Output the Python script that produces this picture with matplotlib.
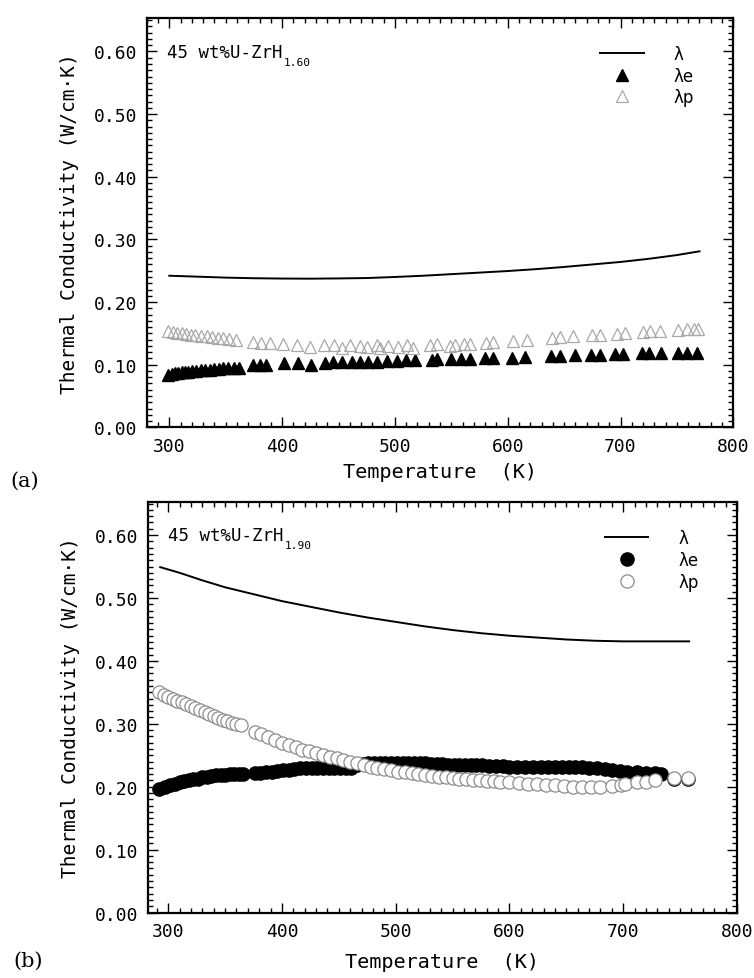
import numpy as np
import matplotlib.pyplot as plt
from matplotlib.ticker import MultipleLocator, FormatStrFormatter

# ---- panel (a): 45 wt%U-ZrH1.60 ----
t_line_a = [300, 325, 350, 375, 400, 425, 450, 475, 500, 525, 550, 575, 600, 625, 650,
            675, 700, 725, 750, 770]
lam_a = [0.242, 0.2405, 0.239, 0.238, 0.2375, 0.2373, 0.2377, 0.2383, 0.240, 0.242,
         0.2445, 0.247, 0.2495, 0.2525, 0.256, 0.260, 0.264, 0.269, 0.275, 0.281]

t_e_a = [299, 302, 305, 308, 311, 314, 317, 320, 324, 328, 332, 336, 340, 344, 348, 352,
         357, 362, 374, 380, 386, 402, 414, 426, 438, 445, 453, 462, 469, 476, 484, 493,
         502, 510, 518, 533, 537, 550, 559, 567, 580, 587, 604, 615, 638, 646, 660, 674,
         682, 695, 702, 719, 725, 736, 751, 759, 768]
lam_e_a = [0.084, 0.085, 0.086, 0.087, 0.088, 0.088, 0.089, 0.090, 0.090, 0.091, 0.092,
           0.092, 0.093, 0.093, 0.094, 0.094, 0.095, 0.095, 0.099, 0.099, 0.100, 0.102,
           0.103, 0.0995, 0.103, 0.104, 0.104, 0.105, 0.105, 0.105, 0.105, 0.106, 0.106,
           0.107, 0.107, 0.108, 0.109, 0.109, 0.109, 0.109, 0.110, 0.111, 0.111, 0.112,
           0.114, 0.114, 0.115, 0.116, 0.116, 0.117, 0.117, 0.118, 0.118, 0.118, 0.119,
           0.119, 0.119]

t_p_a = [299, 303, 307, 311, 315, 319, 323, 328, 333, 338, 343, 348, 353, 359, 374, 381,
         389, 401, 413, 425, 437, 446, 453, 460, 469, 475, 484, 487, 494, 503, 511, 516,
         531, 537, 549, 553, 561, 567, 581, 587, 605, 617, 639, 646, 658, 675, 682, 697,
         704, 720, 726, 735, 751, 759, 765, 769]
lam_p_a = [0.153, 0.152, 0.151, 0.150, 0.149, 0.148, 0.147, 0.146, 0.145, 0.144, 0.143,
           0.142, 0.141, 0.140, 0.136, 0.135, 0.134, 0.133, 0.131, 0.128, 0.132, 0.131,
           0.127, 0.131, 0.130, 0.128, 0.131, 0.127, 0.130, 0.129, 0.131, 0.127, 0.131,
           0.133, 0.130, 0.132, 0.133, 0.133, 0.135, 0.136, 0.138, 0.139, 0.142, 0.144,
           0.145, 0.147, 0.148, 0.149, 0.150, 0.152, 0.153, 0.153, 0.156, 0.157, 0.157,
           0.157]

# ---- panel (b): 45 wt%U-ZrH1.90 ----
t_line_b = [293, 310, 330, 350, 375, 400, 425, 450, 475, 500, 525, 550, 575, 600, 625,
            650, 675, 700, 730, 758]
lam_b = [0.549, 0.540, 0.528, 0.517, 0.506, 0.495, 0.486, 0.477, 0.469, 0.462, 0.455,
         0.449, 0.444, 0.440, 0.437, 0.434, 0.432, 0.431, 0.431, 0.431]

t_e_b = [292, 297, 302, 306, 310, 314, 318, 322, 326, 330, 334, 338, 342, 346, 350, 354,
         358, 362, 366, 376, 381, 386, 391, 396, 401, 406, 411, 416, 421, 426, 431, 436,
         441, 446, 451, 456, 461, 466, 471, 476, 481, 486, 491, 496, 501, 506, 511, 516,
         521, 526, 531, 536, 541, 546, 551, 556, 561, 566, 571, 576, 582, 588, 594, 600,
         607, 614, 621, 628, 634, 640, 646, 652, 658, 664, 670, 677, 684, 690, 697, 703,
         712, 720, 728, 733, 745, 757]
lam_e_b = [0.197, 0.200, 0.203, 0.205, 0.207, 0.209, 0.210, 0.212, 0.213, 0.215, 0.216,
           0.217, 0.218, 0.219, 0.219, 0.220, 0.220, 0.220, 0.220, 0.221, 0.222, 0.223,
           0.224, 0.225, 0.226, 0.227, 0.228, 0.229, 0.229, 0.230, 0.230, 0.230, 0.230,
           0.229, 0.229, 0.229, 0.230, 0.234, 0.236, 0.237, 0.238, 0.238, 0.238, 0.238,
           0.238, 0.238, 0.238, 0.237, 0.237, 0.237, 0.236, 0.236, 0.236, 0.235, 0.235,
           0.235, 0.234, 0.234, 0.234, 0.234, 0.233, 0.233, 0.233, 0.232, 0.232, 0.232,
           0.232, 0.232, 0.232, 0.232, 0.232, 0.232, 0.231, 0.231, 0.230, 0.229, 0.228,
           0.227, 0.225, 0.224, 0.223, 0.222, 0.221, 0.220, 0.213, 0.213]

t_p_b = [292, 296, 300, 304, 308, 312, 316, 320, 324, 328, 332, 336, 340, 344, 348, 352,
         356, 360, 364, 376, 382, 388, 394, 400, 406, 412, 418, 424, 430, 436, 442, 448,
         454, 460, 466, 472, 478, 484, 490, 496, 502, 508, 514, 520, 526, 532, 538, 544,
         550, 556, 562, 568, 574, 580, 586, 592, 600, 608, 616, 624, 632, 640, 648, 656,
         664, 672, 680, 690, 698, 702, 712, 720, 728, 745, 757]
lam_p_b = [0.350, 0.346, 0.343, 0.340, 0.337, 0.334, 0.331, 0.328, 0.325, 0.322, 0.319,
           0.316, 0.312, 0.309, 0.306, 0.304, 0.302, 0.300, 0.298, 0.287, 0.283, 0.279,
           0.275, 0.270, 0.266, 0.263, 0.259, 0.256, 0.253, 0.250, 0.247, 0.245, 0.242,
           0.239, 0.237, 0.234, 0.232, 0.230, 0.228, 0.226, 0.224, 0.223, 0.221, 0.220,
           0.218, 0.217, 0.216, 0.215, 0.214, 0.213, 0.212, 0.211, 0.210, 0.209, 0.209,
           0.208, 0.207, 0.206, 0.205, 0.204, 0.203, 0.202, 0.201, 0.200, 0.200, 0.200,
           0.200, 0.201, 0.203, 0.205, 0.207, 0.208, 0.210, 0.214, 0.214]

MONO = 'DejaVu Sans Mono'


def style_axes(ax, xmin):
    ax.set_xlim(xmin, 800)
    ax.set_ylim(0, 0.653)
    ax.xaxis.set_major_locator(MultipleLocator(100))
    ax.xaxis.set_minor_locator(MultipleLocator(10))
    ax.yaxis.set_major_locator(MultipleLocator(0.1))
    ax.yaxis.set_minor_locator(MultipleLocator(0.01))
    ax.yaxis.set_major_formatter(FormatStrFormatter('%.2f'))
    ax.tick_params(which='both', direction='in', top=True, right=True, width=1.0)
    ax.tick_params(which='major', length=7, labelsize=13, pad=7)
    ax.tick_params(which='minor', length=3.5)
    for lab in ax.get_xticklabels() + ax.get_yticklabels():
        lab.set_family(MONO)
    for sp in ax.spines.values():
        sp.set_linewidth(1.6)
    ax.set_xlabel('Temperature  (K)', family=MONO, fontsize=14.5)
    ax.set_ylabel('Thermal Conductivity (W/cm·K)', family=MONO, fontsize=14)
    ax.yaxis.set_label_coords(-0.115, 0.5)


def add_title(ax, sub):
    main = ax.text(0.034, 0.918, '45 wt%U-ZrH', transform=ax.transAxes,
                   family=MONO, fontsize=12.5, va='center', ha='left')
    ax.annotate(sub, xy=(1.0, 0.0), xycoords=main, xytext=(1, 3),
                textcoords='offset points', family=MONO, fontsize=8,
                va='top', ha='left')


fig = plt.figure(figsize=(7.54, 9.79), dpi=100)
ax_a = fig.add_axes([0.1946, 0.5625, 0.778, 0.4178])
ax_b = fig.add_axes([0.1959, 0.0669, 0.7815, 0.4196])

# panel (a)
la, = ax_a.plot(t_line_a, lam_a, color='black', lw=1.4)
ea, = ax_a.plot(t_e_a, lam_e_a, ls='none', marker='^', ms=8.5, color='black')
pa, = ax_a.plot(t_p_a, lam_p_a, ls='none', marker='^', ms=8.5, mfc='none',
                mec='#a8a8a8', mew=0.9)
style_axes(ax_a, 280)
ax_a.xaxis.set_label_coords(0.5, -0.085)
add_title(ax_a, '1.60')
ax_a.legend([la, ea, pa], ['λ', 'λe', 'λp'], loc='upper left',
            bbox_to_anchor=(0.773, 0.935), frameon=False, fontsize=12,
            handlelength=2.6, handletextpad=1.8, labelspacing=0.22,
            borderpad=0, borderaxespad=0)

# panel (b)
lb, = ax_b.plot(t_line_b, lam_b, color='black', lw=1.4)
eb, = ax_b.plot(t_e_b, lam_e_b, ls='none', marker='o', ms=9.5, color='black')
pb, = ax_b.plot(t_p_b, lam_p_b, ls='none', marker='o', ms=9.5, mfc='white',
                mec='#8c8c8c', mew=0.9)
style_axes(ax_b, 282)
ax_b.xaxis.set_label_coords(0.5, -0.095)
add_title(ax_b, '1.90')
ax_b.legend([lb, eb, pb], ['λ', 'λe', 'λp'], loc='upper left',
            bbox_to_anchor=(0.776, 0.933), frameon=False, fontsize=12,
            handlelength=2.6, handletextpad=1.8, labelspacing=0.22,
            borderpad=0, borderaxespad=0)

fig.text(0.014, 0.508, '(a)', family='DejaVu Serif', fontsize=15, va='center')
fig.text(0.018, 0.018, '(b)', family='DejaVu Serif', fontsize=15, va='center')

fig.savefig('out.png', dpi=100, facecolor='white')
